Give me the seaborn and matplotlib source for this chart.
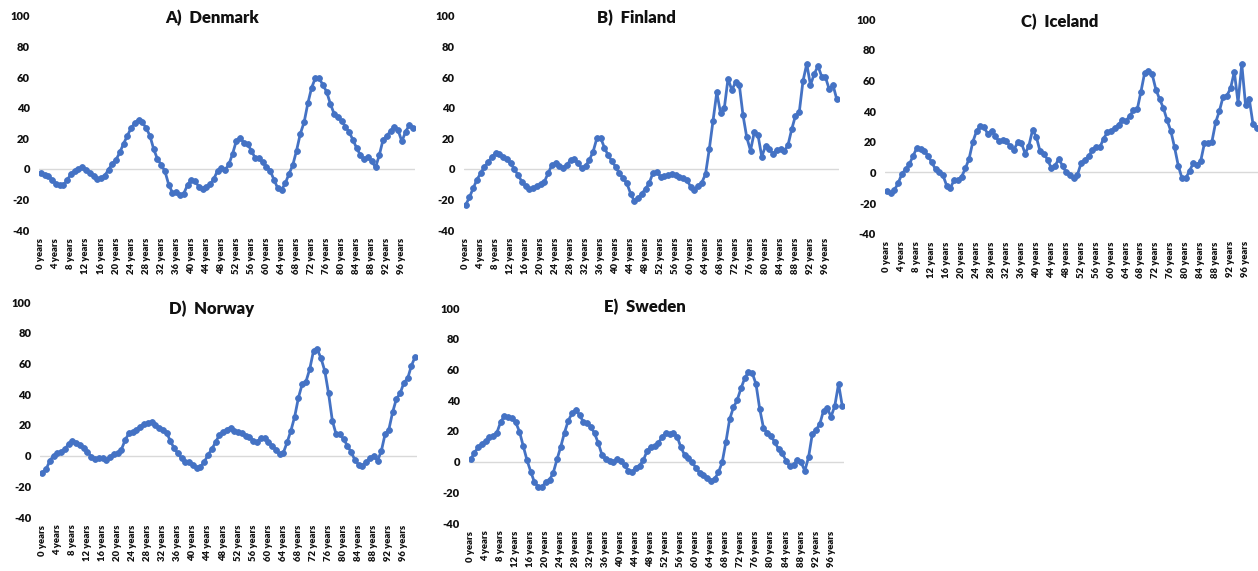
import matplotlib
matplotlib.use("Agg")
import matplotlib.pyplot as plt
import pandas as pd
import seaborn as sns

# ---------------- data ----------------
ages = list(range(100))
tick_ages = list(range(0, 100, 4))
tick_labels = [f"{a} years" for a in tick_ages]
y_ticks = [-40, -20, 0, 20, 40, 60, 80, 100]

countries = ["Denmark", "Finland", "Iceland", "Norway", "Sweden"]
titles = ["A)  Denmark", "B)  Finland", "C)  Iceland", "D)  Norway", "E)  Sweden"]

denmark = [-2.6, -3.7, -4.8, -7.0, -9.6, -10.7, -10.2, -7.5, -3.0, -1.2,
           -0.3, 1.3, -0.4, -2.6, -4.8, -6.5, -5.9, -4.3, -0.4, 3.5,
           6.0, 10.9, 16.5, 21.7, 26.7, 30.0, 32.2, 30.4, 26.7, 21.7,
           13.0, 6.5, 2.8, -1.5, -10.2, -15.5, -15.0, -17.0, -16.0, -10.5,
           -7.0, -8.0, -11.5, -12.8, -11.5, -10.0, -6.5, -1.0, 0.5, -0.6,
           3.0, 10.0, 18.5, 20.5, 17.0, 16.0, 12.0, 7.0, 7.0, 4.3,
           1.5, -1.3, -7.0, -12.6, -13.7, -9.3, -3.2, 2.6, 12.0, 23.0,
           30.4, 42.8, 53.0, 59.3, 59.3, 54.8, 50.4, 42.4, 36.0, 33.7,
           31.5, 27.6, 24.0, 19.0, 13.5, 9.0, 6.3, 8.0, 5.2, 1.0,
           9.0, 19.0, 21.5, 24.8, 27.6, 25.4, 18.0, 24.3, 28.7, 27.0]

finland = [-23.5, -18.5, -12.6, -7.0, -2.8, 1.5, 4.3, 8.0, 10.2, 9.8,
           8.0, 6.5, 3.7, -0.2, -4.0, -8.3, -11.0, -13.0, -12.6, -11.0,
           -10.0, -8.3, -2.8, 2.6, 3.7, 2.0, 0.9, 2.6, 5.9, 6.3,
           3.7, 0.4, 2.0, 5.9, 11.3, 20.0, 20.4, 14.0, 9.0, 5.2,
           1.5, -2.8, -6.0, -9.3, -16.0, -21.0, -19.0, -16.0, -13.0, -9.0,
           -2.4, -1.7, -5.0, -4.5, -4.0, -3.0, -4.0, -5.0, -6.0, -7.0,
           -11.5, -13.7, -11.0, -8.9, -3.3, 13.0, 31.5, 50.0, 36.5, 39.6,
           59.0, 51.5, 56.5, 55.0, 35.0, 20.6, 12.0, 24.0, 22.0, 8.0,
           15.0, 12.8, 10.0, 12.4, 13.0, 11.7, 15.6, 26.0, 34.8, 37.0,
           57.4, 68.5, 54.8, 62.0, 67.2, 60.2, 59.8, 52.0, 54.8, 45.6]

iceland = [-12.0, -13.7, -11.5, -7.0, -1.0, 2.0, 5.4, 10.7, 16.0, 15.2,
           14.0, 10.7, 6.5, 2.0, 0.4, -2.0, -8.7, -10.0, -5.0, -5.0,
           -2.8, 2.6, 9.0, 20.0, 27.0, 30.4, 29.3, 25.0, 27.2, 23.5,
           20.2, 20.9, 20.2, 17.0, 14.8, 19.6, 19.1, 12.2, 17.4, 27.8,
           23.0, 13.7, 12.2, 8.3, 2.8, 4.3, 8.7, 4.3, 0.0, -1.5,
           -3.7, -1.5, 6.1, 8.3, 10.4, 14.8, 16.5, 16.3, 22.0, 26.1,
           27.2, 28.9, 31.0, 34.3, 33.7, 36.7, 40.6, 41.0, 52.6, 65.0,
           66.0, 64.0, 54.0, 47.8, 42.0, 34.0, 27.0, 16.3, 4.3, -3.9,
           -3.9, 0.9, 5.9, 4.8, 7.4, 19.0, 19.0, 20.0, 32.6, 40.0,
           49.3, 50.0, 54.8, 65.6, 45.4, 70.6, 44.0, 47.8, 31.5, 29.0]

norway = [-11.0, -9.0, -3.3, 0.0, 1.5, 2.6, 4.3, 7.6, 9.8, 8.5,
          7.0, 4.8, 2.6, -0.7, -2.2, -1.7, -1.7, -2.8, -0.7, 1.0,
          1.5, 4.0, 10.2, 14.6, 15.6, 17.0, 19.0, 20.4, 21.5, 22.2,
          20.0, 18.3, 17.0, 15.0, 9.6, 4.8, 1.5, -1.7, -4.3, -4.0,
          -6.0, -8.3, -7.2, -4.0, 0.4, 4.3, 8.7, 13.5, 15.2, 17.0,
          18.3, 16.3, 15.6, 14.6, 13.0, 12.0, 9.8, 9.0, 11.3, 11.7,
          9.0, 6.5, 4.0, 0.9, 2.0, 8.7, 16.3, 25.4, 37.8, 46.7,
          48.3, 56.5, 68.3, 69.3, 63.5, 55.2, 40.6, 22.8, 14.0, 14.0,
          10.7, 6.5, 2.2, -2.8, -6.0, -6.5, -4.3, -1.7, 0.0, -3.3,
          3.0, 14.0, 17.0, 28.3, 37.0, 40.6, 47.6, 50.4, 58.7, 64.6]

sweden = [1.5, 5.9, 9.3, 11.5, 13.5, 15.9, 17.0, 19.0, 26.0, 29.8,
          29.3, 28.7, 25.6, 19.6, 10.2, 1.0, -6.5, -13.5, -16.3, -16.3,
          -13.5, -12.0, -7.2, 1.5, 9.8, 19.0, 26.7, 31.5, 33.7, 30.4,
          26.0, 25.4, 22.8, 18.5, 12.0, 4.3, 1.7, 0.4, 0.0, 1.5,
          0.4, -2.2, -6.0, -7.0, -4.0, -2.6, 1.0, 7.0, 9.8, 10.2,
          12.0, 16.3, 18.5, 17.8, 18.5, 16.3, 9.3, 4.3, 2.2, -0.4,
          -4.0, -7.2, -8.7, -10.9, -12.6, -11.3, -7.0, -0.4, 13.0, 27.8,
          35.4, 40.2, 47.8, 54.3, 58.7, 57.8, 50.7, 34.3, 22.0, 18.7,
          17.0, 12.6, 8.3, 5.4, 0.7, -3.0, -2.2, 1.1, -0.4, -5.9,
          2.8, 18.0, 20.7, 24.6, 33.3, 34.8, 29.3, 36.5, 50.7, 36.1]

series = [denmark, finland, iceland, norway, sweden]

# ---------------- layout (pixels) ----------------
W, H = 1258, 571
# left, right, top, bottom of each plot area
rects = [(39.0, 415.0, 15.7, 230.3),
         (463.8, 838.6, 15.7, 230.3),
         (885.1, 1258.6, 19.0, 233.7),
         (40.4, 417.1, 302.3, 517.0),
         (468.8, 844.2, 308.3, 523.0)]
title_xy = [(212, 18.3), (636.7, 17.7), (1059.7, 21.7), (211.7, 308.3), (645, 307.3)]

sns.set_style("white")
plt.rcParams["font.family"] = ["Lato", "DejaVu Sans"]

fig = plt.figure(figsize=(W / 100, H / 100), dpi=100)
fig.patch.set_facecolor("white")

line_color = "#4472C4"
text_color = "#111111"

for name, title, vals, (l, r, t, b), (tx, ty) in zip(countries, titles, series, rects, title_xy):
    ax = fig.add_axes([l / W, 1 - b / H, (r - l) / W, (b - t) / H])
    ax.patch.set_alpha(0)
    df = pd.DataFrame({"age": ages, "value": vals})
    ax.axhline(0, color="#D9D9D9", lw=1.0, zorder=0)
    sns.lineplot(data=df, x="age", y="value", ax=ax, color=line_color,
                 marker="o", markersize=4.2, linewidth=2.0,
                 markeredgecolor=line_color, markeredgewidth=0.6, zorder=3)
    ax.set_xlim(-0.5, 99.5)
    ax.set_ylim(-40, 100)
    ax.set_xticks(tick_ages)
    ax.set_xticklabels(tick_labels, rotation=90, fontsize=6.8, fontweight="heavy",
                       color=text_color)
    ax.set_yticks(y_ticks)
    ax.set_yticklabels([str(v) for v in y_ticks], fontsize=8, fontweight="heavy",
                       color=text_color)
    ax.tick_params(axis="x", length=0, pad=5.5)
    ax.tick_params(axis="y", length=0, pad=6.5)
    for s in ax.spines.values():
        s.set_visible(False)
    ax.grid(False)
    ax.set_xlabel("")
    ax.set_ylabel("")
    fig.text(tx / W, 1 - ty / H, title, ha="center", va="center",
             fontsize=12, fontweight="heavy", color=text_color)

fig.savefig("out.png", dpi=100, facecolor="white")
